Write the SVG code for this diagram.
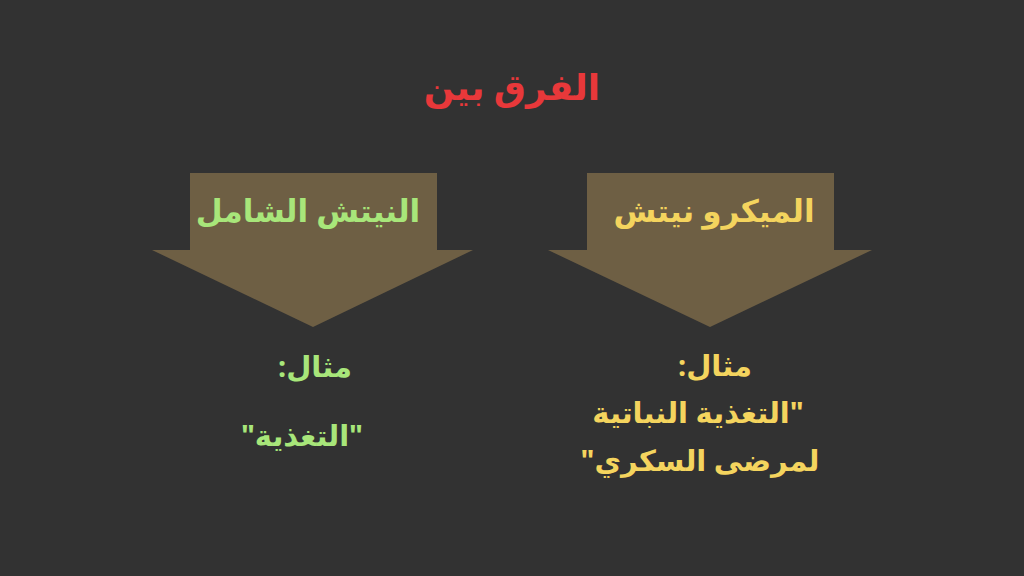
<svg xmlns="http://www.w3.org/2000/svg" width="1024" height="576" viewBox="0 0 1024 576">
<style>
text{font-family:"Noto Sans","DejaVu Sans",sans-serif;font-weight:bold;text-anchor:middle;direction:rtl;unicode-bidi:embed}
.arrow{fill:#6e5f44}
.title{fill:#e8383a;font-size:36px}
.green{fill:#a8e67a}
.yellow{fill:#f4d45e}
.head{font-size:31px}
.body{font-size:29px}
</style>
<rect width="1024" height="576" fill="#323232"/>
<g id="title"><text class="title" x="512" y="100">الفرق بين</text></g>
<g id="connectors"></g>
<g id="node-left">
<polygon class="arrow" points="190,173 437,173 437,250 473,250 313,327 152,250 190,250"/>
<text class="green head" x="308" y="222">النيتش الشامل</text>
</g>
<g id="node-right">
<polygon class="arrow" points="587,173 834,173 834,250 872,250 710,327 548,250 587,250"/>
<text class="yellow head" x="714" y="222">الميكرو نيتش</text>
</g>
<g id="example-left">
<text class="green body" x="315" y="377">مثال:</text>
<text class="green body" x="302" y="446">"التغذية"</text>
</g>
<g id="example-right">
<text class="yellow body" x="715" y="376">مثال:</text>
<text class="yellow body" x="698" y="423">"التغذية النباتية</text>
<text class="yellow body" x="700" y="471">لمرضى السكري"</text>
</g>
</svg>
